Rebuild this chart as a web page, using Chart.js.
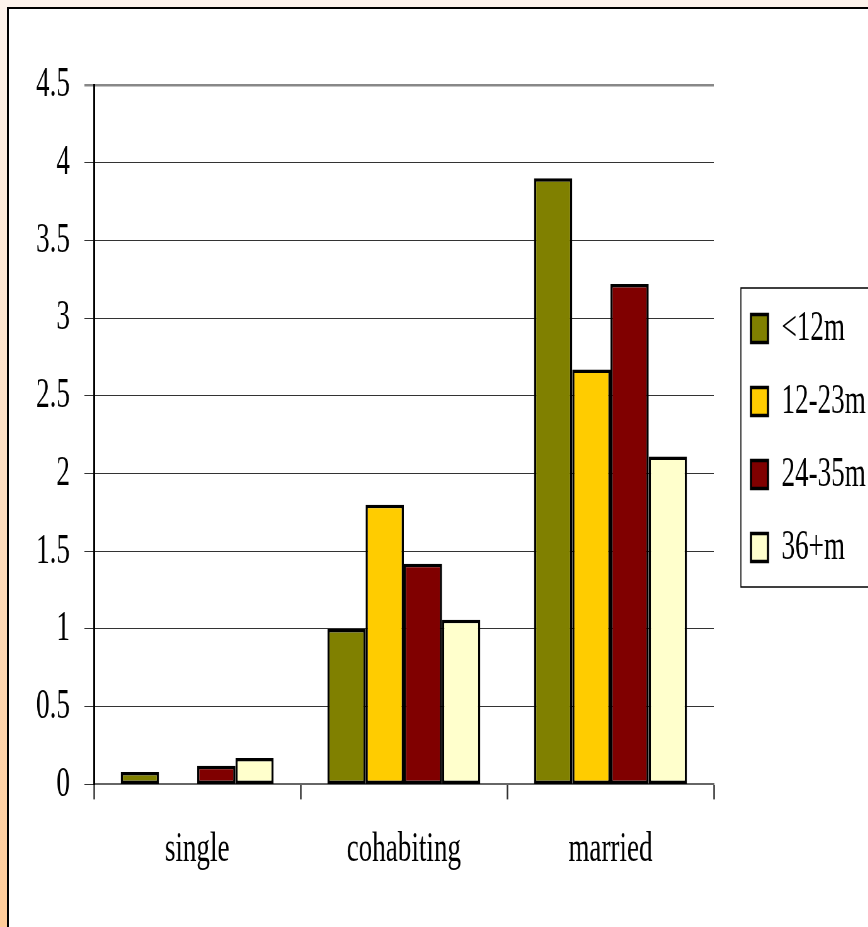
<!DOCTYPE html>
<html>
<head>
<meta charset="utf-8">
<script src="https://cdn.jsdelivr.net/npm/chart.js@4/dist/chart.umd.min.js"></script>
<style>
  html, body { margin: 0; padding: 0; width: 868px; height: 927px; overflow: hidden; }
  body { position: relative; background: linear-gradient(#fdf3ec, #ffcc99); }
  #frame { position: absolute; left: 7px; top: 7px; width: 900px; height: 960px; border: 2px solid #000; background: #fff; }
  /* the original picture is squeezed sideways, so draw wide and squeeze */
  #wrap { position: absolute; left: 0; top: 0; width: 1378px; height: 927px; transform: scaleX(0.63); transform-origin: 0 0; }
</style>
</head>
<body>
<div id="frame"></div>
<div id="wrap"><canvas id="chart"></canvas></div>
<script>
const categories = ["single", "cohabiting", "married"];
const seriesNames = ["<12m", "12-23m", "24-35m", "36+m"];
const under12m = [0.08, 1.0, 3.9];
const m12to23 = [null, 1.8, 2.67];
const m24to35 = [0.12, 1.42, 3.22];
const m36plus = [0.17, 1.06, 2.11];
const seriesColors = ["#808000", "#ffcc00", "#800000", "#ffffcc"];

const FONT = { family: "'Liberation Serif', 'Times New Roman', serif", size: 43 };

const legendBox = {
  id: "legendBox",
  beforeInit(chart) {
    const legend = chart.legend;
    if (!legend) return;
    const fit = legend.fit;
    legend.fit = function () {
      fit.call(this);
      this.width = 245;
    };
  },
  afterLayout(chart) {
    const lg = chart.legend;
    if (!lg) return;
    lg.left += 29;
    lg.top -= 55;
    lg.bottom -= 55;
  },
  afterDraw(chart) {
    const hb = chart.legend && chart.legend.legendHitBoxes;
    if (!hb || !hb.length) return;
    const ctx = chart.ctx;
    const last = hb[hb.length - 1];
    const x = hb[0].left - 16;
    const top = hb[0].top - 19;
    const bottom = last.top + last.height + 18;
    ctx.save();
    ctx.strokeStyle = "#000";
    ctx.lineWidth = 1.5;
    ctx.strokeRect(x, top, chart.width - x + 20, bottom - top);
    ctx.restore();
  }
};

const values = [under12m, m12to23, m24to35, m36plus];

new Chart(document.getElementById("chart"), {
  type: "bar",
  data: {
    labels: categories,
    datasets: seriesNames.map((name, i) => ({
      label: name,
      data: values[i],
      backgroundColor: seriesColors[i],
      borderColor: "#000",
      borderWidth: 3.5,
      borderSkipped: false,
      categoryPercentage: 0.74,
      barPercentage: 1
    }))
  },
  options: {
    responsive: true,
    maintainAspectRatio: false,
    animation: false,
    layout: { padding: { left: 20, top: 85, right: 0, bottom: 26 } },
    plugins: {
      tooltip: { enabled: false },
      legend: {
        position: "right",
        labels: {
          color: "#000",
          font: FONT,
          boxWidth: 27,
          boxHeight: 28,
          padding: 30
        }
      }
    },
    scales: {
      x: {
        grid: {
          offset: true,
          drawOnChartArea: true,
          color: (c) => c.index === 3 ? "#888" : "rgba(0,0,0,0)",
          lineWidth: (c) => c.index === 3 ? 3 : 1,
          tickLength: 15,
          tickColor: "#333",
          tickWidth: 2.5
        },
        border: { color: "#666", width: 2 },
        ticks: { color: "#000", font: FONT, padding: 25, maxRotation: 0 }
      },
      y: {
        min: 0,
        max: 4.5,
        afterFit(scale) { scale.width = 129; },
        grid: {
          color: (c) => c.tick && c.tick.value === 4.5 ? "#888" : "#333",
          lineWidth: (c) => c.tick && c.tick.value === 4.5 ? 2.5 : 1,
          tickLength: 15
        },
        border: { color: "#000", width: 3 },
        ticks: { stepSize: 0.5, color: "#000", font: FONT, padding: 23, callback: (v) => String(v) }
      }
    }
  },
  plugins: [legendBox]
});
</script>
</body>
</html>
